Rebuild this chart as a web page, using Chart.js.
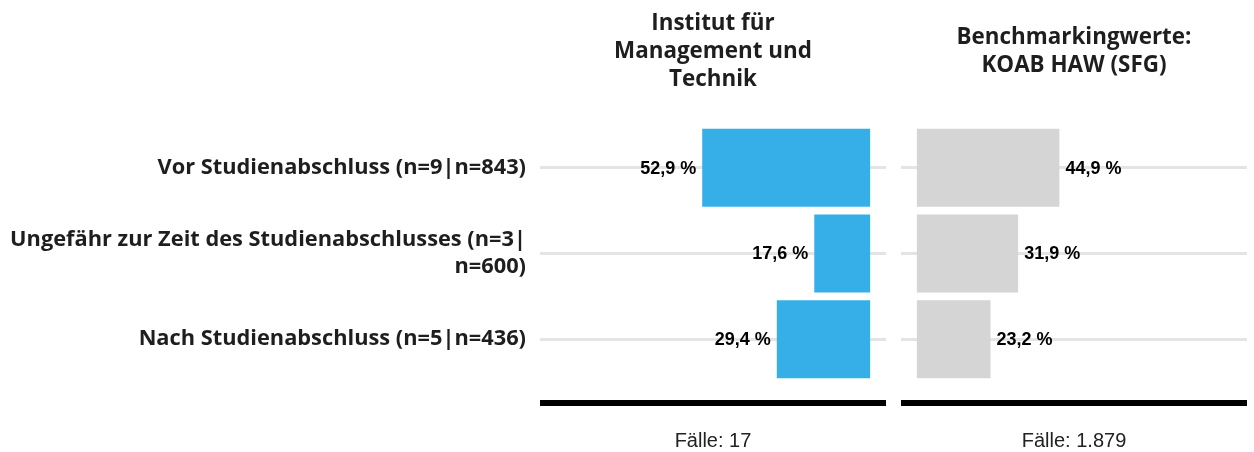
<!DOCTYPE html>
<html lang="de">
<head>
<meta charset="utf-8">
<title>Zeitpunkt</title>
<script src="https://cdn.jsdelivr.net/npm/chart.js@4.4.1/dist/chart.umd.min.js"></script>
<style>
  html, body { margin: 0; padding: 0; background: #fff; }
  #wrap { position: relative; width: 1254px; height: 452px; overflow: hidden; }
  #leftChart { position: absolute; left: 0; top: 0; }
  #rightChart { position: absolute; left: 890px; top: 0; }
</style>
</head>
<body>
<div id="wrap">
  <canvas id="leftChart" width="900" height="452"></canvas>
  <canvas id="rightChart" width="364" height="452"></canvas>
</div>
<script>
const categories = [
  'Vor Studienabschluss (n=9|n=843)',
  ['Ungefähr zur Zeit des Studienabschlusses (n=3|', 'n=600)'],
  'Nach Studienabschluss (n=5|n=436)'
];
const instituteValues = [52.9, 17.6, 29.4];
const benchmarkValues = [44.9, 31.9, 23.2];
const instituteTitle = ['Institut für', 'Management und', 'Technik'];
const benchmarkTitle = ['Benchmarkingwerte:', 'KOAB HAW (SFG)'];
const instituteCases = 'Fälle: 17';
const benchmarkCases = 'Fälle: 1.879';

const LABEL_FONT = '"Open Sans", Lato, sans-serif';
const ARIAL = '"Liberation Sans", Arial, sans-serif';

// draws value labels, panel title, black base line and case count
function panelDecor(side, title, cases) {
    return {
        id: 'panelDecor',
        afterDatasetsDraw(chart) {
            const ctx = chart.ctx;
            const area = chart.chartArea;
            const meta = chart.getDatasetMeta(0);
            const values = chart.data.datasets[0].data;
            ctx.save();

            ctx.font = 'bold 18px ' + ARIAL;
            ctx.fillStyle = '#000';
            ctx.textBaseline = 'middle';
            meta.data.forEach((bar, i) => {
                const txt = values[i].toFixed(1).replace('.', ',') + ' %';
                if (side === 'left') {
                    ctx.textAlign = 'right';
                    ctx.fillText(txt, bar.x - 6, bar.y + 1);
                } else {
                    ctx.textAlign = 'left';
                    ctx.fillText(txt, bar.x + 6, bar.y + 1);
                }
            });

            const cx = (area.left + area.right) / 2;
            ctx.font = 'bold 22.4px ' + LABEL_FONT;
            ctx.fillStyle = '#1e1e1e';
            ctx.textAlign = 'center';
            ctx.textBaseline = 'alphabetic';
            title.forEach((line, i) => {
                ctx.fillText(line, cx, 58 + (i - (title.length - 1) / 2) * 28.3);
            });

            ctx.fillStyle = '#000';
            ctx.fillRect(area.left, 400, area.right - area.left, 6);

            ctx.font = '20px ' + ARIAL;
            ctx.fillStyle = '#222';
            ctx.fillText(cases, cx, 447);
            ctx.restore();
        }
    };
}

const gridStyle = { color: '#e4e4e4', lineWidth: 3, offset: false, drawTicks: false };

new Chart(document.getElementById('leftChart'), {
    type: 'bar',
    data: {
        labels: categories,
        datasets: [{
            data: instituteValues,
            backgroundColor: '#36afe8',
            barPercentage: 0.91,
            categoryPercentage: 1
        }]
    },
    options: {
        indexAxis: 'y',
        responsive: false,
        animation: false,
        layout: { padding: { top: 125, bottom: 70, left: 0, right: 14 } },
        plugins: { legend: { display: false }, tooltip: { enabled: false } },
        scales: {
            x: { reverse: true, min: -5, max: 104, display: false },
            y: {
                afterFit(scale) { scale.width = 540; },
                grid: gridStyle,
                border: { display: false },
                ticks: {
                    color: '#1e1e1e',
                    padding: 14,
                    font: { family: LABEL_FONT, size: 21.8, weight: 'bold', lineHeight: 1.24 }
                }
            }
        }
    },
    plugins: [panelDecor('left', instituteTitle, instituteCases)]
});

new Chart(document.getElementById('rightChart'), {
    type: 'bar',
    data: {
        labels: categories,
        datasets: [{
            data: benchmarkValues,
            backgroundColor: '#d5d5d5',
            barPercentage: 0.91,
            categoryPercentage: 1
        }]
    },
    options: {
        indexAxis: 'y',
        responsive: false,
        animation: false,
        layout: { padding: { top: 125, bottom: 70, left: 0, right: 7 } },
        plugins: { legend: { display: false }, tooltip: { enabled: false } },
        scales: {
            x: { min: -5, max: 104, display: false },
            y: {
                afterFit(scale) { scale.width = 11; },
                grid: gridStyle,
                border: { display: false },
                ticks: { display: false }
            }
        }
    },
    plugins: [panelDecor('right', benchmarkTitle, benchmarkCases)]
});
</script>
</body>
</html>
